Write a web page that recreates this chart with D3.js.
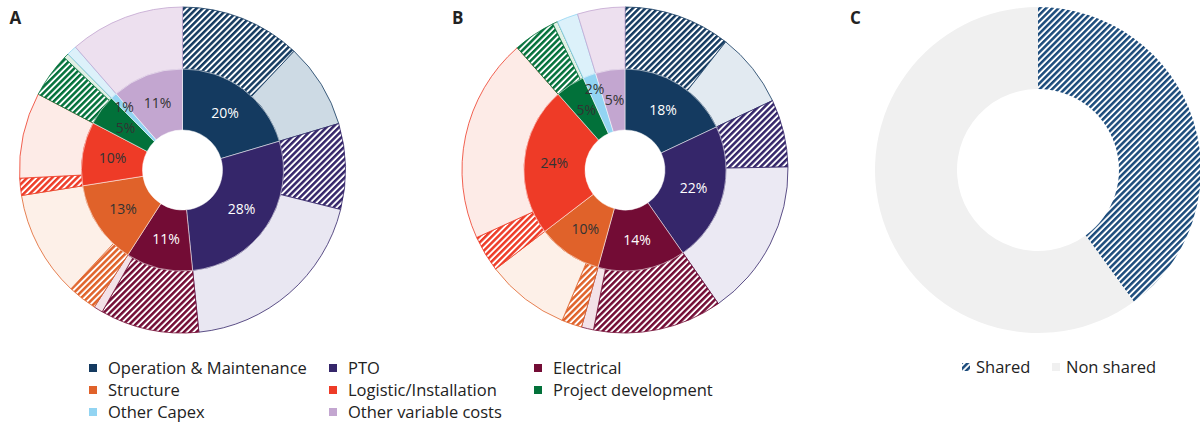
<!DOCTYPE html>
<html>
<head>
<meta charset="utf-8">
<script src="https://cdn.jsdelivr.net/npm/d3@7"></script>
<style>
	body { margin: 0; background: #fff; }
	text { font-family: "Open Sans", sans-serif; }
</style>
</head>
<body>
<svg id="chart" width="1200" height="430"></svg>
<script>
// categories, colours and values (% of total cost)
var categories = ["Operation & Maintenance", "PTO", "Electrical", "Structure",
	"Logistic/Installation", "Project development", "Other Capex", "Other variable costs"];
var colors = ["#143a60", "#35266a", "#730c35", "#e0622a", "#ee3b27", "#02713a", "#92d4f2", "#c3a6d0"];
var tintsA = ["#cddae4", "#e9e7f2", "#f3e2e8", "#fdf0e8", "#fdebe7", "#e2f0e6", "#dcf1fa", "#ede0ef"];
var tintsB = ["#e2eaf1", "#ebe9f3", "#f3e2e8", "#fdf0e8", "#fdebe7", "#e2f0e6", "#dcf1fa", "#ede0ef"];

var shareA = [20.4, 28, 10.7, 13.4, 10.2, 4.9, 1.0, 11.4];
var sharedA = [12.0, 8.5, 9.8, 2.9, 1.7, 4.4, 0, 0];
var nonSharedA = [8.4, 19.5, 0.9, 10.5, 8.5, 0.5, 1.0, 11.4];

var shareB = [18, 22.3, 14, 10.3, 23.9, 4.7, 2.1, 4.7];
var sharedB = [10.6, 6.7, 12.8, 2.0, 3.6, 4.2, 0, 0];
var nonSharedB = [7.4, 15.6, 1.2, 8.3, 20.3, 0.5, 2.1, 4.7];

var labelsC = ["Shared", "Non shared"];
var valuesC = [40, 60];
var sharedColor = "#1b4b7b";
var nonSharedColor = "#f0f0f0";

var svg = d3.select("#chart");
var defs = svg.append("defs");

function hatch(id, color) {
	var p = defs.append("pattern")
		.attr("id", id)
		.attr("patternUnits", "userSpaceOnUse")
		.attr("width", 4.4)
		.attr("height", 4.4)
		.attr("patternTransform", "rotate(45)");
	p.append("rect").attr("width", 4.4).attr("height", 4.4).attr("fill", "#fff");
	p.append("rect").attr("width", 2.5).attr("height", 4.4).attr("fill", color);
}

colors.forEach((c, i) => hatch("hatch" + i, c));
hatch("hatchC", sharedColor);

var cy = 170;
var rHole = 40, rInner = 101, rOuter = 163;

function drawDouble(cx, title, share, shared, nonShared, tints) {
	var g = svg.append("g").attr("transform", "translate(" + cx + "," + cy + ")");

	// outer ring: shared / non shared split for every category
	var outerData = [];
	categories.forEach((c, i) => {
		outerData.push({ cat: i, shared: true, value: shared[i] });
		outerData.push({ cat: i, shared: false, value: nonShared[i] });
	});

	var outerPie = d3.pie().sort(null).value((d) => d.value);
	var outerArc = d3.arc().innerRadius(rInner).outerRadius(rOuter);

	g.selectAll(".outer")
		.data(outerPie(outerData).filter((d) => d.data.value > 0))
	.enter().append("path")
		.attr("class", "outer")
		.attr("d", outerArc)
		.attr("fill", (d) => d.data.shared ? "url(#hatch" + d.data.cat + ")" : tints[d.data.cat])
		.attr("stroke", (d) => colors[d.data.cat])
		.attr("stroke-width", 0.8);

	// inner ring: category share
	var innerPie = d3.pie().sort(null);
	var innerArc = d3.arc().innerRadius(rHole).outerRadius(rInner);

	var slices = innerPie(share);

	g.selectAll(".inner")
		.data(slices)
	.enter().append("path")
		.attr("class", "inner")
		.attr("d", innerArc)
		.attr("fill", (d, i) => colors[i])
		.attr("stroke", "#fff")
		.attr("stroke-width", 0.5);

	g.selectAll(".lbl")
		.data(slices)
	.enter().append("text")
		.attr("class", "lbl")
		.attr("transform", (d) => {
			var a = (d.startAngle + d.endAngle) / 2;
			var r = d.value < 3 ? 86 : 71;
			return "translate(" + (r * Math.sin(a)) + "," + (-r * Math.cos(a)) + ")";
		})
		.attr("dy", "0.35em")
		.attr("text-anchor", "middle")
		.style("font-size", "14px")
		.attr("fill", (d, i) => i < 3 ? "#fff" : "#333")
		.text((d) => Math.round(d.value) + "%");

	svg.append("text")
		.attr("x", cx - 173)
		.attr("y", 24)
		.style("font-size", "17px")
		.style("font-weight", "bold")
		.attr("fill", "#222")
		.text(title);
}

drawDouble(182.5, "A", shareA, sharedA, nonSharedA, tintsA);
drawDouble(625, "B", shareB, sharedB, nonSharedB, tintsB);

// C: shared vs non shared
var cxC = 1038;
var gC = svg.append("g").attr("transform", "translate(" + cxC + "," + cy + ")");
var pieC = d3.pie().sort(null);
var arcC = d3.arc().innerRadius(81).outerRadius(rOuter);

gC.selectAll("path")
	.data(pieC(valuesC))
.enter().append("path")
	.attr("d", arcC)
	.attr("fill", (d, i) => i === 0 ? "url(#hatchC)" : nonSharedColor);

svg.append("text")
	.attr("x", 850)
	.attr("y", 24)
	.style("font-size", "17px")
	.style("font-weight", "bold")
	.attr("fill", "#222")
	.text("C");

// legend for A and B
var legX = [89, 329, 534];
var legY = [368, 390, 412];

var leg = svg.selectAll(".leg")
	.data(categories)
.enter().append("g")
	.attr("class", "leg")
	.attr("transform", (d, i) => "translate(" + legX[i % 3] + "," + legY[Math.floor(i / 3)] + ")");

leg.append("rect")
	.attr("x", 0)
	.attr("y", -4)
	.attr("width", 8)
	.attr("height", 8)
	.attr("fill", (d, i) => colors[i]);

leg.append("text")
	.attr("x", 19)
	.attr("dy", "0.35em")
	.style("font-size", "16.5px")
	.attr("fill", "#222")
	.text((d) => d);

// legend for C
var legCX = [962, 1052];
var legC = svg.selectAll(".legC")
	.data(labelsC)
.enter().append("g")
	.attr("class", "legC")
	.attr("transform", (d, i) => "translate(" + legCX[i] + "," + 367 + ")");

legC.append("rect")
	.attr("y", -4)
	.attr("width", 8)
	.attr("height", 8)
	.attr("fill", (d, i) => i === 0 ? "url(#hatchC)" : nonSharedColor);

legC.append("text")
	.attr("x", 14)
	.attr("dy", "0.35em")
	.style("font-size", "16.5px")
	.attr("fill", "#222")
	.text((d) => d);
</script>
</body>
</html>
